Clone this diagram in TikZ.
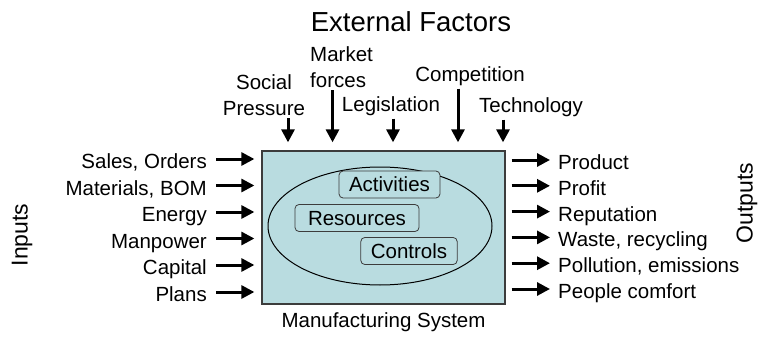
\documentclass[tikz,border=0pt]{standalone}
\usepackage{fontspec}
\setmainfont{Liberation Sans}
\usetikzlibrary{arrows.meta, positioning, shapes.geometric}
\definecolor{SysFill}{HTML}{B9DCE0}
\definecolor{Edge}{HTML}{3C3C3C}

\begin{document}
\begin{tikzpicture}[
  x=1pt, y=-1pt,
  font=\fontsize{20.5}{26}\selectfont,
  lab/.style={inner sep=0pt, text height=19pt, text depth=0pt},
  factor/.style={inner sep=0pt, align=center, anchor=north},
  part/.style={rounded corners=4pt, draw=Edge, thick, fill=SysFill, inner xsep=10pt, inner ysep=0pt, minimum height=27pt, text height=14.7pt, text depth=0pt},
  side/.style={font=\fontsize{23}{28}\selectfont, rotate=90, inner sep=0pt},
  arrow/.style={-{Triangle[length=13pt, width=13pt]}, line width=3pt},
  feed/.style={arrow, shorten <=9pt, shorten >=7pt},
  emit/.style={arrow, shorten <=6pt, shorten >=8pt},
  drop/.style={arrow, shorten <=3pt, shorten >=8pt}
]
\useasboundingbox (0,0) rectangle (758,337);

% system box
\node[draw=Edge, line width=1.3pt, fill=SysFill, minimum width=243pt, minimum height=153pt, inner sep=0pt] (sys) at (383.5,227.5) {};
\node[draw=black, line width=1pt, ellipse, minimum width=224pt, minimum height=118pt, inner sep=0pt] (core) at (380,226) {};
\node[part] (act) at (389.5,184.5) {Activities};
\node[part, minimum width=124pt] (res) at (357,218) {Resources};
\node[part] (ctl) at (409,251) {Controls};
\node[inner sep=0pt, below=8pt of sys] (syslab) {Manufacturing System};

% external factors
\node[font=\fontsize{27.5}{33}\selectfont, inner sep=0pt, anchor=base] (ext) at (411,32) {External Factors};
\node[factor] (soc) at (264,74) {Social\\Pressure};
\node[factor, align=left, anchor=north west] (mkt) at (310,46) {Market\\forces};
\node[factor] (leg) at (391,96) {Legislation};
\node[factor] (cmp) at (470,66) {Competition};
\node[factor] (tec) at (531,97) {Technology};

\draw[drop] ([xshift=24pt]soc.south) -- ([xshift=24pt]soc.south |- sys.north);
\draw[drop] ([xshift=-9pt]mkt.south) -- ([xshift=-9pt]mkt.south |- sys.north);
\draw[drop] ([xshift=2pt]leg.south) -- ([xshift=2pt]leg.south |- sys.north);
\draw[drop] ([xshift=-12pt]cmp.south) -- ([xshift=-12pt]cmp.south |- sys.north);
\draw[drop] ([xshift=-28pt]tec.south) -- ([xshift=-28pt]tec.south |- sys.north);

% inputs
\node[side] (inlab) at (22,235) {Inputs};
\node[lab, anchor=east] (in1) at (207,159) {Sales, Orders};
\node[lab, anchor=east] (in2) at (207,185.5) {Materials, BOM};
\node[lab, anchor=east] (in3) at (207,212) {Energy};
\node[lab, anchor=east] (in4) at (207,238.5) {Manpower};
\node[lab, anchor=east] (in5) at (207,265) {Capital};
\node[lab, anchor=east] (in6) at (207,292) {Plans};

\draw[feed] (in1.east) -- (in1.east -| sys.west);
\draw[feed] (in2.east) -- (in2.east -| sys.west);
\draw[feed] (in3.east) -- (in3.east -| sys.west);
\draw[feed] (in4.east) -- (in4.east -| sys.west);
\draw[feed] (in5.east) -- (in5.east -| sys.west);
\draw[feed] (in6.east) -- (in6.east -| sys.west);

% outputs
\node[side] (outlab) at (747,203) {Outputs};
\node[lab, anchor=west] (out1) at (558,160) {Product};
\node[lab, anchor=west] (out2) at (558,185.8) {Profit};
\node[lab, anchor=west] (out3) at (558,211.6) {Reputation};
\node[lab, anchor=west] (out4) at (558,237.4) {Waste, recycling};
\node[lab, anchor=west] (out5) at (558,263.2) {Pollution, emissions};
\node[lab, anchor=west] (out6) at (558,289) {People comfort};

\draw[emit] (out1.west -| sys.east) -- (out1.west);
\draw[emit] (out2.west -| sys.east) -- (out2.west);
\draw[emit] (out3.west -| sys.east) -- (out3.west);
\draw[emit] (out4.west -| sys.east) -- (out4.west);
\draw[emit] (out5.west -| sys.east) -- (out5.west);
\draw[emit] (out6.west -| sys.east) -- (out6.west);
\end{tikzpicture}
\end{document}
